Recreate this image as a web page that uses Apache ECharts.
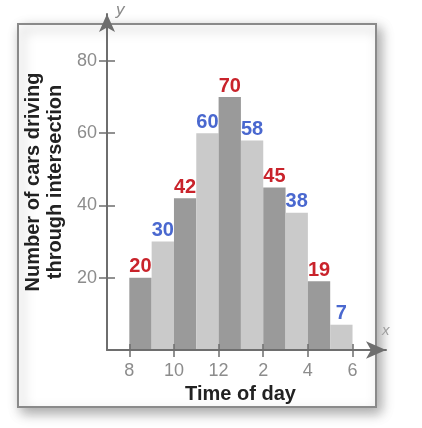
<!DOCTYPE html>
<html>
<head>
<meta charset="utf-8">
<script src="https://cdn.jsdelivr.net/npm/echarts@6/dist/echarts.min.js"></script>
<style>html,body{margin:0;padding:0;background:#fff;}#c{width:422px;height:428px;}</style>
</head>
<body>
<div id="c"></div>
<script>
// Data
const startHours = [8, 9, 10, 11, 12, 13, 14, 15, 16, 17];
const carCounts = [20, 30, 42, 60, 70, 58, 45, 38, 19, 7];
const xTickValues = [8, 10, 12, 14, 16, 18];
const xTickLabels = ['8', '10', '12', '2', '4', '6'];
const yTickValues = [20, 40, 60, 80];

const barColors = ['#9a9a9a', '#cacaca'];
const labelColors = ['#c9232b', '#4a68cf'];
const axisColor = '#6e6e6e';
const tickTextColor = '#8c8c8c';
const FONT = 'Liberation Sans, Arial, sans-serif';

const chart = echarts.init(document.getElementById('c'), null, {renderer: 'canvas'});

const xBase = {
  type: 'value', min: 7, max: 19.5,
  splitLine: {show: false}
};
const yBase = {
  type: 'value', min: 0, max: 93,
  splitLine: {show: false}
};

const option = {
  backgroundColor: '#fff',
  animation: false,
  grid: {left: 107, right: 36, top: 14, bottom: 78, containLabel: false},
  graphic: {
    elements: [
      {
        type: 'rect', z: -100,
        shape: {x: 18, y: 24, width: 358, height: 383},
        style: {fill: '#fff', stroke: '#8a8a8a', lineWidth: 2,
                shadowBlur: 12, shadowOffsetX: 4, shadowOffsetY: 5, shadowColor: 'rgba(0,0,0,0.35)'}
      },
      {
        type: 'text', left: 116, top: 2, z: 10,
        style: {text: 'y', font: 'italic 17px ' + FONT, fill: '#8a8a8a'}
      },
      {
        type: 'text', left: 382, top: 323, z: 10,
        style: {text: 'x', font: 'italic 15px ' + FONT, fill: '#a0a0a0'}
      }
    ]
  },
  xAxis: [
    Object.assign({}, xBase, {
      position: 'bottom', z: 5,
      axisLine: {show: true, onZero: false, symbol: ['none', 'arrow'], symbolSize: [13, 20],
                 lineStyle: {color: axisColor, width: 2}},
      axisTick: {show: true, customValues: xTickValues, length: 7, lineStyle: {color: axisColor, width: 1.5}},
      axisLabel: {show: true, customValues: xTickValues, margin: 12,
                  formatter: v => xTickLabels[xTickValues.indexOf(v)],
                  fontSize: 18, fontFamily: FONT, color: tickTextColor},
      name: 'Time of day', nameLocation: 'middle', nameGap: 31,
      nameTextStyle: {fontSize: 20, fontWeight: 'bold', fontFamily: FONT, color: '#222',
                      lineHeight: 20, padding: [0, 12, 0, 0]}
    }),
    Object.assign({}, xBase, {
      position: 'bottom', z: 5,
      axisLine: {show: false, onZero: false},
      axisTick: {show: true, inside: true, customValues: xTickValues, length: 6, lineStyle: {color: axisColor, width: 1.5}},
      axisLabel: {show: false}
    })
  ],
  yAxis: [
    Object.assign({}, yBase, {
      position: 'left', z: 5,
      axisLine: {show: true, onZero: false, symbol: ['none', 'arrow'], symbolSize: [12, 18],
                 lineStyle: {color: axisColor, width: 2}},
      axisTick: {show: true, customValues: yTickValues, length: 8, lineStyle: {color: axisColor, width: 1.5}},
      axisLabel: {show: true, customValues: yTickValues, margin: 10,
                  fontSize: 18, fontFamily: FONT, color: tickTextColor},
      name: 'Number of cars driving\nthrough intersection',
      nameLocation: 'middle', nameRotate: 90, nameGap: 37,
      nameTextStyle: {fontSize: 20, fontWeight: 'bold', fontFamily: FONT, color: '#222', lineHeight: 22}
    }),
    Object.assign({}, yBase, {
      position: 'left', z: 5,
      axisLine: {show: false, onZero: false},
      axisTick: {show: true, inside: true, customValues: yTickValues, length: 8, lineStyle: {color: axisColor, width: 1.5}},
      axisLabel: {show: false}
    })
  ],
  series: [{
    type: 'custom',
    xAxisIndex: 0, yAxisIndex: 0,
    z: 2,
    data: startHours.map((h, i) => [h, carCounts[i]]),
    renderItem: function (params, api) {
      const h = api.value(0);
      const v = api.value(1);
      const p0 = api.coord([h, 0]);
      const p1 = api.coord([h + 1, v]);
      const i = params.dataIndex;
      return {
        type: 'group',
        children: [
          {
            type: 'rect',
            shape: {x: p0[0], y: p1[1], width: p1[0] - p0[0], height: p0[1] - p1[1]},
            style: {fill: barColors[i % 2]}
          },
          {
            type: 'text',
            x: (p0[0] + p1[0]) / 2, y: p1[1] - 1,
            style: {text: String(v), align: 'center', verticalAlign: 'bottom',
                    font: 'bold 20px ' + FONT, fill: labelColors[i % 2]}
          }
        ]
      };
    }
  }]
};
chart.setOption(option);
</script>
</body>
</html>
